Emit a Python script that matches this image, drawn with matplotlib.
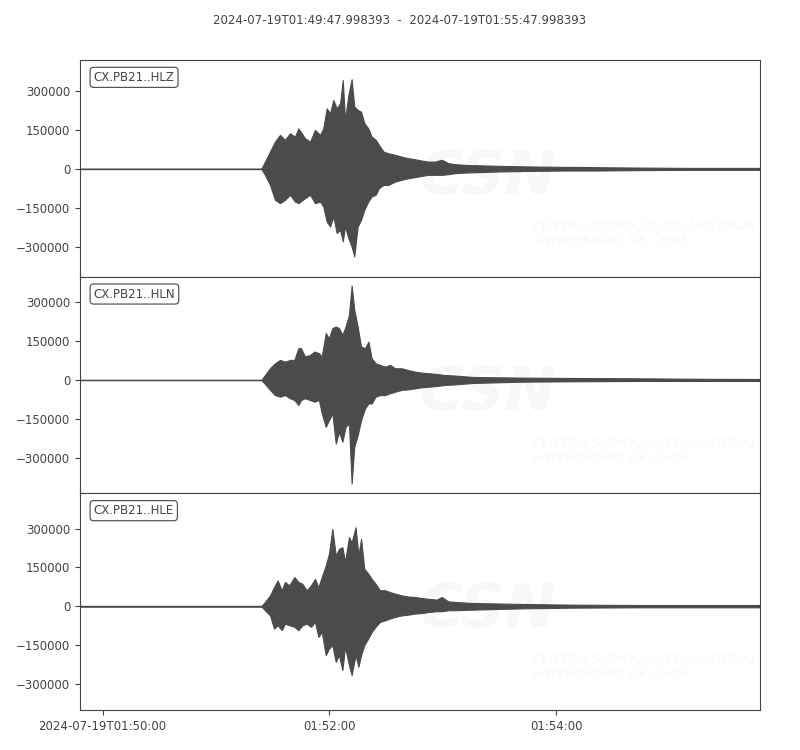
import numpy as np
import matplotlib
matplotlib.use("Agg")
import matplotlib.pyplot as plt

# trace window
start = np.datetime64("2024-07-19T01:49:47.998393")
title = "2024-07-19T01:49:47.998393  -  2024-07-19T01:55:47.998393"
labels = ["CX.PB21..HLZ", "CX.PB21..HLN", "CX.PB21..HLE"]

# envelope: seconds after start, max / min counts
t1 = [0, 96.0, 97.9, 100.6, 103.2, 105.9, 108.5, 111.2, 113.8, 115.6, 119.1, 121.8, 124.4,
      127.1, 128.8, 130.6, 132.4, 134.1, 135.9, 137.7, 139.1, 140.3, 142.1, 143.8, 145.2,
      147.0, 148.8, 150.5, 152.6, 154.4, 156.5, 158.3, 160.6, 163.2, 166.8, 170.3, 173.8,
      177.3, 180.9, 184.4, 187.9, 191.5, 195.0, 198.5, 204.7, 222.4, 240, 257.6, 275.3,
      293, 319.4, 360]
up1 = [0, 0, 28000, 67000, 105000, 131000, 112000, 137000, 124000, 156000, 118000, 105000,
       150000, 131000, 156000, 233000, 214000, 265000, 233000, 253000, 342000, 188000,
       285000, 345000, 240000, 227000, 220000, 176000, 156000, 124000, 112000, 92000,
       67000, 60000, 54000, 47000, 41000, 37000, 32000, 28000, 28000, 35000, 22000, 18000,
       15000, 11500, 9000, 7700, 6400, 5100, 3800, 3800]
lo1 = [0, 0, -23000, -62000, -119000, -132000, -119000, -100000, -126000, -132000, -113000,
       -100000, -132000, -126000, -145000, -203000, -222000, -183000, -247000, -235000,
       -279000, -222000, -267000, -299000, -337000, -222000, -196000, -158000, -126000,
       -106000, -100000, -74000, -62000, -62000, -49000, -42000, -36000, -32000, -27000,
       -23000, -23000, -23000, -20500, -16700, -14000, -10000, -7700, -6400, -6400, -5100,
       -3800, -3800]

t2 = [0, 96.0, 97.9, 100.6, 103.2, 105.9, 108.5, 111.2, 113.5, 115.6, 117.0, 119.1, 121.8,
      124.1, 126.5, 128.0, 130.1, 131.8, 133.6, 135.4, 137.1, 138.9, 140.6, 142.4, 143.8,
      145.2, 147.0, 148.8, 150.9, 152.7, 154.4, 156.5, 158.8, 161.5, 164.1, 166.8, 170.3,
      173.8, 177.3, 180.9, 184.4, 188.8, 193.2, 198.5, 208, 234.5, 261, 296, 330, 360]
up2 = [0, 0, 19000, 45000, 64000, 77000, 70000, 77000, 77000, 122000, 122000, 90000, 96000,
       109000, 103000, 90000, 180000, 160000, 199000, 205000, 199000, 173000, 205000,
       250000, 362000, 269000, 205000, 128000, 122000, 147000, 83000, 64000, 58000, 51000,
       58000, 45000, 45000, 38000, 32000, 28000, 26000, 23000, 19000, 17000,
       11500, 9000, 7700, 6400, 4500, 3800]
lo2 = [0, 0, -15000, -38000, -58000, -64000, -58000, -70000, -77000, -96000, -77000, -70000,
       -77000, -83000, -77000, -128000, -180000, -154000, -128000, -244000, -199000,
       -237000, -180000, -167000, -397000, -256000, -212000, -154000, -109000, -90000,
       -90000, -64000, -58000, -58000, -51000, -45000, -38000, -36000, -32000, -28000,
       -26000, -23000, -19000, -17000, -11500, -6400, -5100, -3800, -3800, -3800]

t3 = [0, 96.0, 97.9, 100.6, 102.7, 104.6, 106.8, 108.5, 110.8, 113.5, 115.6, 117.7, 120.0,
      122.3, 124.4, 126.2, 128.0, 130.1, 131.8, 133.6, 135.4, 137.1, 138.9, 140.3, 142.4,
      143.8, 145.9, 147.4, 148.8, 150.5, 152.6, 154.4, 156.5, 158.8, 161.5, 164.1, 166.8,
      170.3, 173.8, 177.3, 180.9, 184.4, 188.8, 191.5, 195.0, 198.5, 208, 234.5, 261, 296,
      330, 360]
up3 = [0, 0, 17000, 42000, 74000, 100000, 62000, 94000, 81000, 113000, 94000, 87000, 62000,
       81000, 106000, 74000, 113000, 158000, 203000, 299000, 196000, 222000, 228000, 171000,
       267000, 247000, 305000, 196000, 260000, 145000, 126000, 106000, 87000, 62000, 62000,
       55000, 49000, 42000, 38000, 36000, 32000, 29000, 26000, 36000, 19000, 17000,
       12800, 9000, 6400, 5100, 5100, 5100]
lo3 = [0, 0, -15000, -35000, -86000, -73000, -92000, -67000, -73000, -79000, -92000, -73000,
       -67000, -79000, -60000, -118000, -99000, -188000, -163000, -150000, -214000, -188000,
       -246000, -156000, -227000, -265000, -188000, -233000, -188000, -150000, -124000,
       -99000, -79000, -60000, -54000, -47000, -41000, -35000, -32000, -28000, -26000,
       -22000, -19000, -19000, -15000, -15000, -12800, -7700, -5100, -3800, -3800, -3800]

ylims = [(-415000, 419000), (-434600, 396000), (-400000, 435800)]
yticks = [-300000, -150000, 0, 150000, 300000]
xticks = ["2024-07-19T01:50:00", "2024-07-19T01:52:00", "2024-07-19T01:54:00"]
xticklabels = ["2024-07-19T01:50:00", "01:52:00", "01:54:00"]

grey = "#444444"
trace = "#4b4b4b"
wm = "#f8f8f8"
plt.rcParams["font.family"] = "DejaVu Sans"
plt.rcParams["font.size"] = 8.5
plt.rcParams["text.color"] = grey
plt.rcParams["axes.edgecolor"] = grey
plt.rcParams["xtick.color"] = grey
plt.rcParams["ytick.color"] = grey

fig = plt.figure(figsize=(8, 7.5), dpi=100)
fig.text(0.5, 0.973, title, ha="center", va="center", fontsize=8.5)

axes = fig.subplots(3, 1, sharex=True)
fig.subplots_adjust(left=0.1, right=0.95, top=0.92, bottom=0.0533, hspace=0)

data = [(t1, up1, lo1), (t2, up2, lo2), (t3, up3, lo3)]
x0 = start
x1 = start + np.timedelta64(360, "s")
for i, (ax, (t, up, lo)) in enumerate(zip(axes, data)):
    tt = start + (np.array(t) * 1e6).astype("timedelta64[us]")
    # faint CSN watermark
    ax.text(0.6, 0.46, "CSN", transform=ax.transAxes, fontsize=44, fontweight="bold",
            style="italic", color=wm, ha="center", va="center", zorder=0, clip_on=True)
    ax.text(0.665, 0.2, "CENTRO SISMOLÓGICO NACIONAL\nUNIVERSIDAD DE CHILE",
            transform=ax.transAxes, fontsize=9.5, style="italic", color=wm,
            ha="left", va="center", linespacing=1.1, zorder=0, clip_on=True)
    ax.fill_between(tt, lo, up, color=trace, lw=0.8, zorder=2)
    ax.plot(tt, np.zeros(len(tt)), color=trace, lw=1.0, zorder=2)
    ax.set_ylim(*ylims[i])
    ax.set_yticks(yticks)
    ax.set_xlim(x0, x1)
    ax.text(0.02, 0.95, labels[i], transform=ax.transAxes, ha="left", va="top",
            fontsize=8.5, bbox=dict(boxstyle="round,pad=0.3", fc="white", ec=grey, lw=0.8))
    if i < 2:
        ax.tick_params(axis="x", bottom=False, labelbottom=False)

axes[-1].set_xticks([np.datetime64(s) for s in xticks])
axes[-1].set_xticklabels(xticklabels)

fig.savefig("out.png", dpi=100)
